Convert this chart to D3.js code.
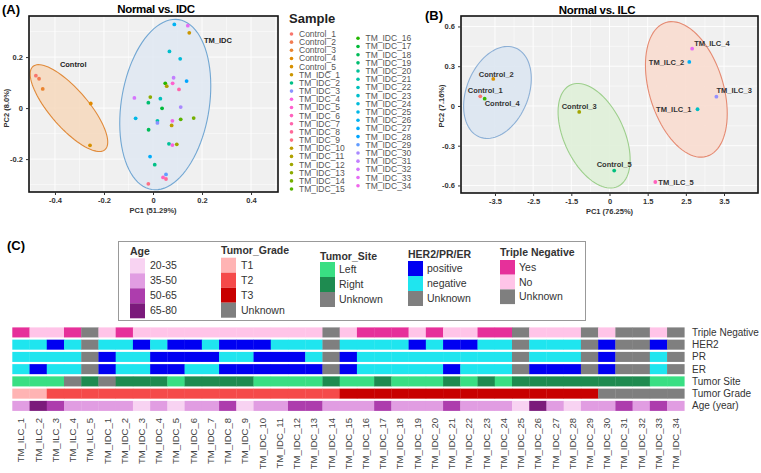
<!DOCTYPE html>
<html>
<head>
<meta charset="utf-8">
<script src="https://cdn.jsdelivr.net/npm/d3@7"></script>
<style>
body { margin: 0; background: #fff; }
text { font-family: "Liberation Sans", Arial, sans-serif; }
</style>
</head>
<body>
<svg id="chart" width="761" height="473"></svg>
<script>
// ---------- data: panel A (Normal vs. IDC) ----------
const samplesA = ["Control_1","Control_2","Control_3","Control_4","Control_5",
  "TM_IDC_26","TM_IDC_33","TM_IDC_1","TM_IDC_23","TM_IDC_24","TM_IDC_28","TM_IDC_31","TM_IDC_16",
  "TM_IDC_11","TM_IDC_5","TM_IDC_7","TM_IDC_32","TM_IDC_13","TM_IDC_19","TM_IDC_22","TM_IDC_17",
  "TM_IDC_30","TM_IDC_25","TM_IDC_21","TM_IDC_3","TM_IDC_34","TM_IDC_10","TM_IDC_15","TM_IDC_14",
  "TM_IDC_18","TM_IDC_20","TM_IDC_4","TM_IDC_12","TM_IDC_27","TM_IDC_2","TM_IDC_29","TM_IDC_6",
  "TM_IDC_8","TM_IDC_9"];
const pc1A = [-0.478,-0.465,-0.450,-0.254,-0.257,
  0.087,0.142,0.148,0.067,0.111,0.137,0.084,0.050,
  0.056,0.080,0.106,-0.076,-0.011,-0.019,0.030,0.037,
  0.113,-0.071,0.018,0.018,0.079,0.076,0.113,0.166,
  -0.018,0.065,0.079,0.097,-0.012,0.007,0.053,0.041,
  0.053,-0.019];
const pc2A = [0.127,0.115,0.075,0.018,-0.146,
  0.328,0.323,0.295,0.222,0.193,0.106,0.119,0.097,
  0.086,0.097,0.073,0.040,0.043,0.021,0.037,-0.001,
  0.004,-0.040,-0.050,-0.058,-0.050,-0.068,-0.044,-0.039,
  -0.085,-0.140,-0.145,-0.142,-0.190,-0.222,-0.260,-0.272,
  -0.278,-0.297];
const xTicksA = [-0.4, -0.2, 0, 0.2, 0.4];
const yTicksA = [-0.2, 0, 0.2];
// group ellipses: centre and two conjugate half-axes, in data units
const ellipsesA = [
  {name: "Control", cx: -0.343, cy: 0.000, ax: 0.147, ay: -0.163, bx: -0.0585, by: -0.049},
  {name: "TM_IDC",  cx: 0.050,  cy: 0.0137, ax: 0.055, ay: 0.333, bx: 0.1774, by: -0.027}
];
const legendSamples = ["Control_1","Control_2","Control_3","Control_4","Control_5"]
  .concat(d3.range(1, 35).map(i => "TM_IDC_" + i));

// ---------- data: panel B (Normal vs. ILC) ----------
const samplesB = ["Control_1","Control_2","Control_3","Control_4","Control_5",
  "TM_ILC_1","TM_ILC_2","TM_ILC_3","TM_ILC_4","TM_ILC_5"];
const pc1B = [-3.885,-3.545,-1.19,-3.77,0.185,2.806,2.59,3.30,2.665,1.70];
const pc2B = [0.073,0.204,-0.045,0.055,-0.488,-0.025,0.332,0.070,0.432,-0.574];
const xTicksB = [-3.5,-2.5,-1.5,0,1.5,2.5,3.5];
const yTicksB = [-0.6,-0.3,0,0.3,0.6];
const ellipsesB = [
  {name: "ctrlA", cx: -3.435, cy: 0.102,  ax: 0.471,  ay: 0.336, bx: 0.751, by: -0.0875},
  {name: "ctrlB", cx: -0.605, cy: -0.225, ax: -0.930, ay: 0.383, bx: 1.068, by: 0.0958},
  {name: "ILC",   cx: 2.513,  cy: 0.125,  ax: -0.537, ay: 0.505, bx: 0.927, by: 0.0815}
];

// ---------- data: panel C (clinical heatmap) ----------
const samplesC = d3.range(1, 6).map(i => "TM_ILC_" + i).concat(d3.range(1, 35).map(i => "TM_IDC_" + i));
const rowNames = ["Triple Negative","HER2","PR","ER","Tumor Site","Tumor Grade","Age (year)"];
const tripleNeg = ["Yes","No","No","Yes","Unknown","No","Yes","No","No","No","No","No","No","No","No","No","No","No",
  "Unknown","No","Yes","Yes","Yes","No","Yes","No","No","Yes","Yes","Unknown","No","No","No","Unknown","No",
  "Unknown","Unknown","No","Unknown"];
const her2 = ["negative","negative","positive","negative","Unknown","negative","negative","positive","negative",
  "positive","positive","negative","positive","positive","positive","negative","negative","negative","Unknown",
  "negative","negative","negative","negative","positive","negative","positive","positive","negative","negative",
  "Unknown","negative","negative","negative","Unknown","positive","Unknown","Unknown","positive","Unknown"];
const pr = ["negative","negative","negative","negative","Unknown","positive","negative","negative","positive",
  "positive","positive","positive","negative","negative","positive","positive","positive","negative","Unknown",
  "positive","negative","negative","negative","negative","negative","negative","negative","negative","negative",
  "Unknown","negative","negative","negative","Unknown","positive","Unknown","Unknown","negative","Unknown"];
const er = ["negative","positive","negative","negative","Unknown","positive","negative","negative","positive",
  "positive","negative","negative","positive","positive","positive","positive","positive","positive","Unknown",
  "positive","negative","negative","negative","negative","negative","positive","negative","negative","negative",
  "Unknown","positive","positive","positive","Unknown","positive","Unknown","Unknown","negative","Unknown"];
const tumorSite = ["Left","Left","Left","Unknown","Right","Unknown","Right","Right","Right","Left","Right","Right",
  "Right","Right","Left","Left","Left","Left","Right","Left","Left","Right","Left","Left","Left","Right","Left",
  "Right","Left","Right","Right","Right","Right","Right","Right","Right","Right","Left","Left"];
const tumorGrade = ["T1","T1","T2","T2","T2","T2","T2","T2","T2","T2","T2","T2","T2","T2","T2","T2","T2","T2","T2",
  "T3","T3","T3","T3","T3","T3","T3","T3","T3","T3","T3","T3","T3","T3","T3","Unknown","Unknown","Unknown",
  "Unknown","Unknown"];
const ageGroup = ["35-50","65-80","50-65","35-50","35-50","35-50","35-50","20-35","35-50","20-35","35-50","35-50",
  "50-65","20-35","35-50","35-50","50-65","50-65","35-50","35-50","35-50","50-65","35-50","35-50","35-50","50-65",
  "35-50","35-50","35-50","20-35","65-80","35-50","20-35","35-50","35-50","50-65","35-50","50-65","35-50"];

// colours for the heatmap categories
const tnColor = d3.scaleOrdinal(["Yes","No","Unknown"], ["#e6309a","#ffc4e8","#7f7f7f"]);
const recColor = d3.scaleOrdinal(["positive","negative","Unknown"], ["#0000f2","#1fe5ef","#7f7f7f"]);
const siteColor = d3.scaleOrdinal(["Left","Right","Unknown"], ["#39df83","#1e8b50","#7f7f7f"]);
const gradeColor = d3.scaleOrdinal(["T1","T2","T3","Unknown"], ["#ffb4b4","#f54a4a","#c80000","#7f7f7f"]);
const ageColor = d3.scaleOrdinal(["20-35","35-50","50-65","65-80"], ["#f8d3f2","#e19de2","#ad3dad","#7b1a7b"]);

const rows = [
  {name: "Triple Negative", values: tripleNeg, color: tnColor},
  {name: "HER2", values: her2, color: recColor},
  {name: "PR", values: pr, color: recColor},
  {name: "ER", values: er, color: recColor},
  {name: "Tumor Site", values: tumorSite, color: siteColor},
  {name: "Tumor Grade", values: tumorGrade, color: gradeColor},
  {name: "Age (year)", values: ageGroup, color: ageColor}
];

const svg = d3.select("#chart");

// ggplot-style hue palette (polar LUV, l=65, c=100)
function hueColor(h) {
  const L = 65, C = 100, hr = h * Math.PI / 180;
  const u = C * Math.cos(hr), v = C * Math.sin(hr);
  const Xn = 95.047, Yn = 100, Zn = 108.883;
  const un = 4 * Xn / (Xn + 15 * Yn + 3 * Zn), vn = 9 * Yn / (Xn + 15 * Yn + 3 * Zn);
  const Y = Yn * Math.pow((L + 16) / 116, 3);
  const up = u / (13 * L) + un, vp = v / (13 * L) + vn;
  const X = Y * 9 * up / (4 * vp), Z = Y * (12 - 3 * up - 20 * vp) / (4 * vp);
  const lin = [
    3.2404542 * X - 1.5371385 * Y - 0.4985314 * Z,
    -0.9692660 * X + 1.8760108 * Y + 0.0415560 * Z,
    0.0556434 * X - 0.2040259 * Y + 1.0572252 * Z
  ].map(c => c / 100);
  const rgb = lin.map(c => {
    const g = c <= 0.0031308 ? 12.92 * c : 1.055 * Math.pow(c, 1 / 2.4) - 0.055;
    return Math.round(255 * Math.max(0, Math.min(1, g)));
  });
  return d3.rgb(rgb[0], rgb[1], rgb[2]).formatHex();
}
function huePalette(names) {
  const levels = names.slice().sort();
  return name => hueColor(15 + 360 * levels.indexOf(name) / levels.length);
}

// ellipse drawn around its centre, linearised through the scales
function ellipsePath(x, y, e) {
  const h = 1e-3;
  const kx = (x(e.cx + h) - x(e.cx - h)) / (2 * h);
  const ky = (y(e.cy + h) - y(e.cy - h)) / (2 * h);
  const px = x(e.cx), py = y(e.cy);
  const pts = d3.range(0, 360, 4).map(t => {
    const r = t * Math.PI / 180;
    return [px + kx * (e.ax * Math.cos(r) + e.bx * Math.sin(r)),
            py + ky * (e.ay * Math.cos(r) + e.by * Math.sin(r))];
  });
  return d3.line()(pts) + "Z";
}

function panelFrame(g, w, h, xGrid, yGrid, x, y) {
  g.append("rect").attr("width", w).attr("height", h).attr("fill", "#f0f0f0");
  g.selectAll(".gx").data(xGrid).join("line")
    .attr("x1", d => x(d.v)).attr("x2", d => x(d.v)).attr("y1", 0).attr("y2", h)
    .attr("stroke", "#fff").attr("stroke-width", d => d.major ? 0.9 : 0.5);
  g.selectAll(".gy").data(yGrid).join("line")
    .attr("y1", d => y(d.v)).attr("y2", d => y(d.v)).attr("x1", 0).attr("x2", w)
    .attr("stroke", "#fff").attr("stroke-width", d => d.major ? 0.9 : 0.5);
}

function styleAxis(a) {
  a.select(".domain").remove();
  a.selectAll(".tick line").attr("stroke", "#333");
  a.selectAll(".tick text").attr("fill", "#333").attr("font-size", 7.5).attr("font-weight", "bold");
}

// ======================= PANEL A =======================
const A = {left: 29, top: 16, w: 249, h: 176};
const xA = d3.scaleLinear().domain([-0.506, 0.51]).range([0, A.w]);
const yA = d3.scaleLinear().domain([-0.329, 0.361]).range([A.h, 0]);
const colA = huePalette(legendSamples);

svg.append("text").attr("x", 2).attr("y", 14).attr("font-size", 13).attr("font-weight", "bold").text("(A)");
svg.append("text").attr("x", 156).attr("y", 13).attr("text-anchor", "middle")
  .attr("font-size", 11.5).attr("font-weight", "bold").attr("letter-spacing", -0.3).text("Normal vs. IDC");

const gA = svg.append("g").attr("transform", `translate(${A.left},${A.top})`);
panelFrame(gA, A.w, A.h,
  [-0.5,-0.4,-0.3,-0.2,-0.1,0,0.1,0.2,0.3,0.4,0.5].map(v => ({v, major: xTicksA.includes(v)})),
  [-0.3,-0.2,-0.1,0,0.1,0.2,0.3].map(v => ({v, major: yTicksA.includes(v)})), xA, yA);

const ellColA = {Control: ["#f6d8bc", "#e08a3a"], TM_IDC: ["#dfe8f2", "#72a7d3"]};
gA.selectAll(".ell").data(ellipsesA).join("path")
  .attr("d", e => ellipsePath(xA, yA, e))
  .attr("fill", e => ellColA[e.name][0]).attr("fill-opacity", 0.85)
  .attr("stroke", e => ellColA[e.name][1]).attr("stroke-width", 1.1);

gA.selectAll(".pt").data(samplesA.map((s, i) => ({s, x: pc1A[i], y: pc2A[i]}))).join("circle")
  .attr("cx", d => xA(d.x)).attr("cy", d => yA(d.y)).attr("r", 1.9).attr("fill", d => colA(d.s));

gA.append("text").attr("x", xA(-0.38)).attr("y", yA(0.162)).attr("font-size", 7.5)
  .attr("font-weight", "bold").attr("fill", "#222").text("Control");
gA.append("text").attr("x", xA(0.208)).attr("y", yA(0.255)).attr("font-size", 7.5)
  .attr("font-weight", "bold").attr("fill", "#222").text("TM_IDC");

gA.append("rect").attr("width", A.w).attr("height", A.h).attr("fill", "none")
  .attr("stroke", "#111").attr("stroke-width", 1.6);

styleAxis(gA.append("g").attr("transform", `translate(0,${A.h})`)
  .call(d3.axisBottom(xA).tickValues(xTicksA).tickSize(3).tickPadding(3).tickFormat(d => String(d))));
styleAxis(gA.append("g")
  .call(d3.axisLeft(yA).tickValues(yTicksA).tickSize(3).tickPadding(3).tickFormat(d => String(d))));

svg.append("text").attr("x", A.left + xA(0)).attr("y", 213).attr("text-anchor", "middle")
  .attr("font-size", 7.5).attr("font-weight", "bold").attr("fill", "#333").text("PC1 (51.29%)");
svg.append("text").attr("transform", `translate(9,${A.top + yA(0)}) rotate(-90)`).attr("text-anchor", "middle")
  .attr("font-size", 7.5).attr("font-weight", "bold").attr("fill", "#333").text("PC2 (8.0%)");

// sample legend
const legA = svg.append("g");
legA.append("text").attr("x", 289).attr("y", 23).attr("font-size", 13).attr("font-weight", "bold")
  .attr("fill", "#222").text("Sample");
const legItems = legendSamples.map((s, i) => ({s, col: i < 20 ? 0 : 1, row: i < 20 ? i : i - 20}));
const li = legA.selectAll(".li").data(legItems).join("g")
  .attr("transform", d => d.col === 0 ? `translate(291.5,${34 + d.row * 8.16})` : `translate(358,${38.3 + d.row * 8.19})`);
li.append("circle").attr("r", 1.8).attr("fill", d => colA(d.s));
li.append("text").attr("x", 7.5).attr("dy", "0.35em").attr("font-size", 8.5).attr("fill", "#555").text(d => d.s);

// ======================= PANEL B =======================
const B = {left: 461, top: 16, w: 297, h: 177};
const slotB = d3.scaleLinear().domain([-0.89, xTicksB.length - 1 + 0.89]).range([0, B.w]);
const xB = d3.scaleLinear().domain(xTicksB).range(xTicksB.map((d, i) => slotB(i)));
const yB = d3.scaleLinear().domain([-0.657, 0.679]).range([B.h, 0]);
const colB = huePalette(samplesB);

svg.append("text").attr("x", 425).attr("y", 20).attr("font-size", 13).attr("font-weight", "bold").text("(B)");
svg.append("text").attr("x", 597).attr("y", 14).attr("text-anchor", "middle")
  .attr("font-size", 11.5).attr("font-weight", "bold").attr("letter-spacing", -0.3).text("Normal vs. ILC");

const gB = svg.append("g").attr("transform", `translate(${B.left},${B.top})`);
const xGridB = [];
xTicksB.forEach((d, i) => {
  xGridB.push({v: d, major: true});
  if (i < xTicksB.length - 1) xGridB.push({v: xB.invert(slotB(i + 0.5)), major: false});
});
panelFrame(gB, B.w, B.h, xGridB,
  [-0.45,-0.15,0.15,0.45].map(v => ({v, major: false})).concat(yTicksB.map(v => ({v, major: true}))), xB, yB);

const ellColB = {ctrlA: ["#dce6f1", "#8db0d6"], ctrlB: ["#dff0d8", "#9dcf8c"], ILC: ["#f8dccf", "#e58a72"]};
gB.selectAll(".ell").data(ellipsesB).join("path")
  .attr("d", e => ellipsePath(xB, yB, e))
  .attr("fill", e => ellColB[e.name][0]).attr("fill-opacity", 0.9)
  .attr("stroke", e => ellColB[e.name][1]).attr("stroke-width", 1.1);

const ptsB = samplesB.map((s, i) => ({s, x: pc1B[i], y: pc2B[i]}));
gB.selectAll(".pt").data(ptsB).join("circle")
  .attr("cx", d => xB(d.x)).attr("cy", d => yB(d.y)).attr("r", 1.9).attr("fill", d => colB(d.s));

// label placement relative to each point
const labB = {
  Control_1: [5, -5.6, "middle"], Control_2: [3, -5, "middle"], Control_3: [0, -6, "middle"],
  Control_4: [0, 5, "start"], Control_5: [0, -6, "middle"], TM_ILC_1: [-6, 0, "end"],
  TM_ILC_2: [-5, 0, "end"], TM_ILC_3: [0, -6, "start"], TM_ILC_4: [2, -5, "start"], TM_ILC_5: [3, 0, "start"]
};
gB.selectAll(".lab").data(ptsB).join("text")
  .attr("x", d => xB(d.x) + labB[d.s][0]).attr("y", d => yB(d.y) + labB[d.s][1])
  .attr("dy", "0.35em").attr("text-anchor", d => labB[d.s][2])
  .attr("font-size", 7.5).attr("font-weight", "bold").attr("fill", "#333").text(d => d.s);

gB.append("rect").attr("width", B.w).attr("height", B.h).attr("fill", "none")
  .attr("stroke", "#111").attr("stroke-width", 1.6);

styleAxis(gB.append("g").attr("transform", `translate(0,${B.h})`)
  .call(d3.axisBottom(xB).tickValues(xTicksB).tickSize(3).tickPadding(3).tickFormat(d => String(d))));
styleAxis(gB.append("g")
  .call(d3.axisLeft(yB).tickValues(yTicksB).tickSize(3).tickPadding(3).tickFormat(d => String(d))));

svg.append("text").attr("x", B.left + xB(0)).attr("y", 214).attr("text-anchor", "middle")
  .attr("font-size", 7.5).attr("font-weight", "bold").attr("fill", "#333").text("PC1 (76.25%)");
svg.append("text").attr("transform", `translate(444,${B.top + yB(0)}) rotate(-90)`).attr("text-anchor", "middle")
  .attr("font-size", 7.5).attr("font-weight", "bold").attr("fill", "#333").text("PC2 (7.16%)");

// ======================= PANEL C =======================
svg.append("text").attr("x", 7).attr("y", 250).attr("font-size", 13).attr("font-weight", "bold").text("(C)");

// legend box
svg.append("rect").attr("x", 118.5).attr("y", 241.5).attr("width", 467).attr("height", 79)
  .attr("fill", "#fff").attr("stroke", "#999").attr("stroke-width", 1);

const legendGroups = [
  {title: "Age", x: 130, ty: 251, sy: 258.3, scale: ageColor},
  {title: "Tumor_Grade", x: 221, ty: 250.5, sy: 257.7, scale: gradeColor},
  {title: "Tumor_Site", x: 320, ty: 256, sy: 262, scale: siteColor},
  {title: "HER2/PR/ER", x: 408, ty: 254, sy: 261, scale: recColor},
  {title: "Triple Negative", x: 500, ty: 252.5, sy: 260, scale: tnColor}
];
legendGroups.forEach(gr => {
  const g = svg.append("g").attr("transform", `translate(${gr.x},0)`);
  g.append("text").attr("y", gr.ty).attr("dy", "0.35em").attr("font-size", 10.5).attr("font-weight", "bold")
    .attr("fill", "#333").text(gr.title);
  const dom = gr.scale.domain();
  const sh = gr.title === "Triple Negative" ? 14.7 : 15;
  g.selectAll(".sw").data(dom).join("rect")
    .attr("y", (d, i) => gr.sy + i * sh).attr("width", 15).attr("height", sh).attr("fill", d => gr.scale(d));
  g.selectAll(".sl").data(dom).join("text")
    .attr("x", gr.title === "Age" || gr.title === "Tumor_Grade" ? 20 : 19)
    .attr("y", (d, i) => gr.sy + (i + 0.5) * sh).attr("dy", "0.35em")
    .attr("font-size", 10.5).attr("fill", "#333").text(d => d);
});

// heatmap
const xC = d3.scaleBand().domain(samplesC).range([12.3, 684.3]);
const yC = d3.scaleBand().domain(rowNames).range([326.3, 412]).paddingInner(0.18).paddingOuter(0.09);

const cells = [];
rows.forEach(r => r.values.forEach((v, i) => cells.push({row: r.name, sample: samplesC[i], fill: r.color(v)})));
svg.append("g").selectAll("rect").data(cells).join("rect")
  .attr("x", d => xC(d.sample)).attr("y", d => yC(d.row))
  .attr("width", xC.bandwidth() + 0.3).attr("height", yC.bandwidth()).attr("fill", d => d.fill);

svg.append("g").selectAll("text").data(rowNames).join("text")
  .attr("x", 692).attr("y", d => yC(d) + yC.bandwidth() / 2).attr("dy", "0.35em")
  .attr("font-family", "Lato, 'Open Sans', sans-serif").attr("font-size", 10).attr("fill", "#333").text(d => d);

svg.append("g").selectAll("text").data(samplesC).join("text")
  .attr("transform", d => `translate(${xC(d) + xC.bandwidth() / 2 + 3.5},418) rotate(-90)`)
  .attr("text-anchor", "end").attr("font-size", 9.5).attr("fill", "#444").text(d => d);
</script>
</body>
</html>
